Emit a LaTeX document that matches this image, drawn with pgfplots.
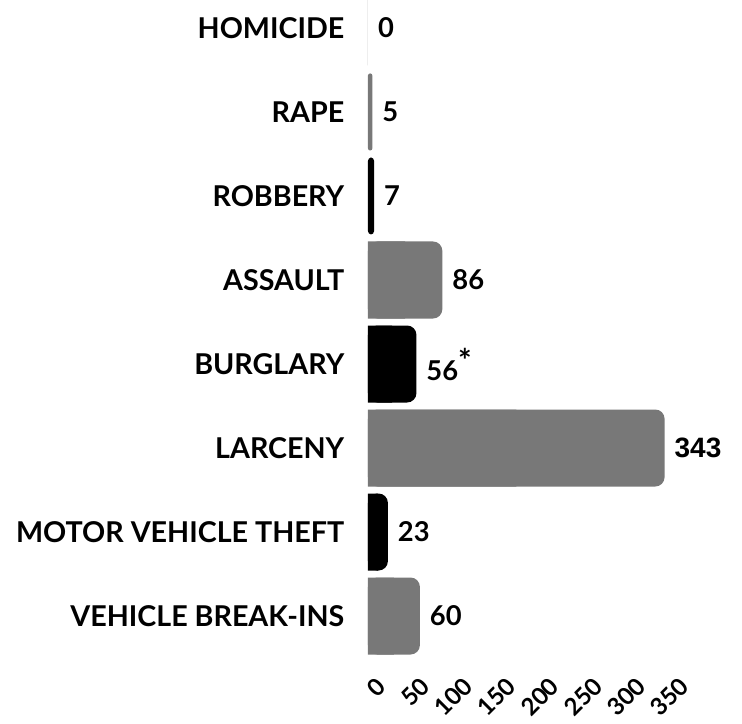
\documentclass[border=0pt]{standalone}
\usepackage{fontspec}
\setmainfont{Lato}[BoldFont={Lato Bold}]
\newfontfamily\arialfont{Liberation Sans}
\usepackage{pgfplots}
\usepackage{pgfplotstable}
\pgfplotsset{compat=1.18}
\definecolor{barGray}{RGB}{120,120,120}

% row index (0 = top), value, label
\pgfplotstableread{
idx value label
3 86 86
5 343 {\arialfont\fontsize{21}{21}\selectfont 343}
7 60 60
}\grayData
\pgfplotstableread{
idx value label
0 0 0
1 5 5
}\grayThin
\pgfplotstableread{
idx value label
4 56 {56\raisebox{6pt}{\fontsize{24}{24}\selectfont *}}
6 23 23
}\blackData
\pgfplotstableread{
idx value label
2 7 7
}\blackThin

\begin{document}
\begin{tikzpicture}
\useasboundingbox (-276pt,0pt) rectangle (280.5pt,-543pt);
\begin{axis}[
    at={(0pt,0pt)}, anchor=north west,
    scale only axis,
    width=227pt, height=493.5pt,
    xmin=0, xmax=350,
    ymin=-0.333, ymax=7.5,
    y dir=reverse,
    axis line style={draw=none},
    xbar, bar shift=0pt, bar width=57.75pt,
    ytick={0,...,7},
    yticklabels={HOMICIDE,RAPE,ROBBERY,ASSAULT,BURGLARY,LARCENY,MOTOR VEHICLE THEFT,VEHICLE BREAK-INS},
    xtick={0,50,...,350},
    xticklabels={\textbf{0},\textbf{50},\textbf{100},\textbf{150},\textbf{200},\textbf{250},\textbf{300},\textbf{350}},
    xtick pos=bottom, ytick pos=left,
    tick style={draw=none},
    yticklabel style={font=\bfseries\fontsize{21.5}{21.5}\selectfont, xshift=-10pt},
    xticklabel style={font=\fontsize{18}{18}\selectfont\bfseries, rotate=45, anchor=east, xshift=-2pt, yshift=-20pt},
    labelled/.style={nodes near coords, point meta=explicit symbolic,
        every node near coord/.style={font=\bfseries\fontsize{20.5}{20.5}\selectfont, black, anchor=west, xshift=4pt}},
    clip=false,
]
% wide bars, rounded at the right end
\addplot[fill=barGray, draw=none, rounded corners=7pt, labelled]
    table[x=value, y=idx, meta=label] {\grayData};
\addplot[fill=black, draw=none, rounded corners=7pt, labelled]
    table[x=value, y=idx, meta=label] {\blackData};
% thin bars
\addplot[fill=barGray, draw=none, rounded corners=1.5pt, labelled]
    table[x=value, y=idx, meta=label] {\grayThin};
\addplot[fill=black, draw=none, rounded corners=2.5pt, labelled]
    table[x=value, y=idx, meta=label] {\blackThin};
% square off the left ends of the wide bars
\addplot[fill=barGray, draw=none, forget plot, x filter/.expression={x/2}]
    table[x=value, y=idx] {\grayData};
\addplot[fill=black, draw=none, forget plot, x filter/.expression={x/2}]
    table[x=value, y=idx] {\blackData};
\end{axis}
\end{tikzpicture}
\end{document}
